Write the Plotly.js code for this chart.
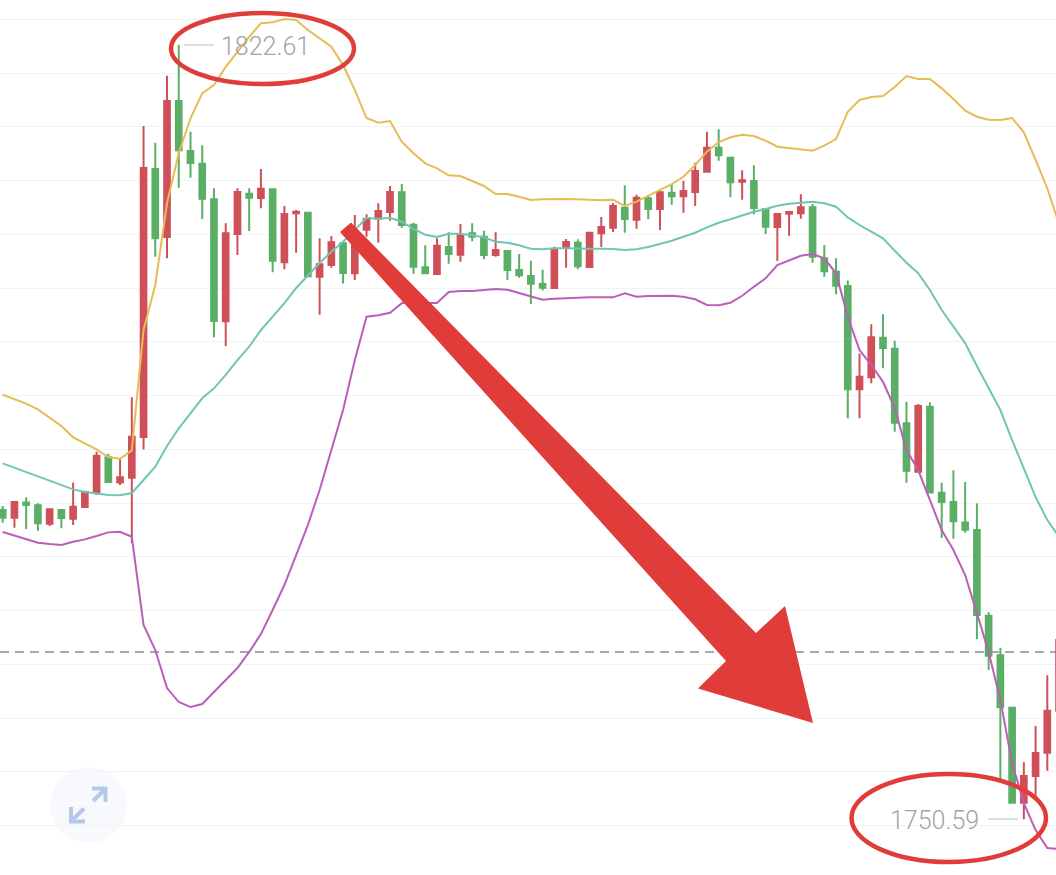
<!DOCTYPE html>
<html>
<head>
<meta charset="utf-8">
<script src="https://cdn.plot.ly/plotly-3.0.1.min.js"></script>
<style>html,body{margin:0;padding:0;background:#fff;overflow:hidden}#chart{width:1056px;height:875px}</style>
</head>
<body>
<div id="chart"></div>
<script>
const open = [1779.35,1778.63,1780.06,1779.79,1778.07,1779.35,1778.54,1779.63,1781.02,1784.25,
1781.92,1782.35,1786.14,1811.07,1804.74,1817.39,1812.74,1811.56,1808.25,1796.90,
1805.02,1808.77,1808.37,1809.18,1802.39,1806.95,1807.00,1801.05,1802.14,1804.16,
1801.37,1805.42,1806.45,1807.07,1808.90,1805.89,1801.92,1801.30,1803.81,1803.10,
1805.09,1804.77,1803.07,1803.44,1801.67,1801.12,1800.37,1800.00,1803.75,1804.21,
1801.95,1805.09,1805.61,1807.47,1806.35,1808.34,1807.35,1808.86,1808.53,1808.93,
1810.82,1813.05,1812.12,1809.89,1809.95,1807.32,1805.67,1806.91,1806.95,1807.51,
1802.76,1801.52,1800.18,1790.58,1791.69,1795.38,1794.35,1787.41,1782.91,1788.96,
1780.96,1780.09,1778.20,1777.49,1769.52,1765.83,1760.96,1752.12,1754.60,1756.77,1760.68];
const close = [1778.63,1780.09,1779.81,1778.11,1779.41,1778.60,1779.65,1781.02,1784.40,1781.95,
1782.39,1786.17,1811.16,1804.62,1817.39,1812.81,1811.63,1808.31,1796.93,1805.09,
1808.93,1808.40,1809.24,1802.54,1806.88,1807.10,1801.09,1802.20,1804.25,1801.39,
1804.46,1806.42,1807.16,1808.93,1805.86,1801.98,1801.37,1803.93,1803.16,1804.93,
1804.77,1803.07,1803.53,1801.67,1801.18,1800.40,1800.03,1803.60,1804.28,1802.02,
1805.14,1805.67,1807.63,1806.42,1808.40,1807.35,1808.90,1808.53,1809.02,1810.88,
1813.05,1812.34,1809.83,1810.02,1807.44,1805.70,1806.88,1807.07,1807.51,1802.91,
1801.55,1800.21,1790.58,1791.75,1795.41,1794.42,1787.47,1783.00,1789.02,1780.99,
1780.09,1778.30,1777.52,1769.58,1765.80,1761.00,1752.12,1754.60,1756.74,1760.68,1767.26];
const high = [1779.72,1780.09,1780.53,1779.97,1779.47,1779.35,1781.92,1781.14,1784.77,1784.58,
1784.16,1789.83,1815.07,1813.51,1819.75,1822.61,1814.54,1813.27,1809.27,1806.02,
1809.27,1809.27,1811.07,1809.21,1807.63,1807.25,1807.04,1804.62,1804.84,1804.31,
1806.79,1806.85,1807.88,1809.49,1809.67,1806.07,1803.97,1804.62,1805.18,1805.95,
1806.02,1805.33,1805.18,1803.44,1803.16,1802.54,1801.70,1803.84,1804.56,1804.53,
1805.24,1806.60,1807.91,1809.55,1808.68,1808.58,1809.18,1809.65,1809.95,1811.65,
1814.54,1814.76,1812.21,1810.95,1811.41,1807.41,1806.91,1807.10,1808.71,1807.81,
1804.00,1802.76,1800.71,1793.92,1796.62,1797.55,1795.10,1789.42,1789.21,1789.37,
1781.89,1783.04,1781.95,1779.97,1769.83,1766.54,1760.96,1755.88,1759.26,1763.97,1767.26];
const low = [1778.17,1777.70,1777.58,1777.42,1777.86,1777.65,1777.95,1779.53,1780.74,1781.95,
1781.67,1776.28,1784.99,1802.91,1802.76,1809.33,1810.26,1806.42,1795.41,1794.60,
1803.07,1805.30,1807.41,1801.46,1801.74,1803.28,1801.09,1797.51,1801.89,1800.42,
1800.74,1804.77,1804.21,1806.26,1805.61,1801.33,1801.30,1801.24,1802.26,1802.45,
1804.34,1802.67,1802.91,1800.74,1800.96,1798.51,1799.78,1799.91,1801.89,1801.74,
1801.92,1803.81,1805.21,1805.14,1805.51,1806.39,1805.39,1807.75,1807.00,1807.63,
1810.82,1811.84,1808.44,1808.21,1806.85,1805.02,1802.51,1804.86,1806.45,1802.35,
1801.05,1799.41,1787.88,1787.88,1791.13,1792.53,1786.63,1781.89,1782.91,1780.99,
1776.74,1776.68,1777.24,1767.32,1764.46,1754.23,1752.12,1750.59,1752.37,1755.10,1760.37];
const upperBand = [1790.07,1789.67,1789.24,1788.71,1787.97,1787.16,1786.11,1785.55,1784.99,1784.28,
1784.12,1784.90,1796.09,1800.28,1807.88,1812.56,1815.78,1818.11,1818.88,1820.58,
1821.98,1823.37,1824.62,1824.71,1825.02,1824.93,1824.00,1823.23,1822.44,1820.74,
1818.42,1815.81,1815.37,1815.53,1813.61,1812.53,1811.60,1811.13,1810.48,1810.42,
1809.95,1809.49,1808.74,1808.74,1808.49,1808.18,1808.25,1808.28,1808.28,1808.25,
1808.21,1808.16,1808.21,1807.63,1808.03,1808.56,1809.11,1809.67,1810.35,1811.44,
1812.68,1813.55,1814.02,1814.26,1814.14,1813.70,1813.14,1813.02,1812.90,1812.77,
1813.24,1813.86,1816.40,1817.49,1817.77,1817.86,1818.70,1819.72,1819.44,1819.44,
1818.57,1817.58,1816.49,1815.93,1815.65,1815.63,1815.81,1814.48,1811.91,1809.27,1805.95];
const middleBand = [1783.69,1783.28,1782.85,1782.45,1782.05,1781.65,1781.27,1781.02,1780.86,1780.74,
1780.72,1780.93,1782.14,1783.38,1785.30,1786.95,1788.34,1789.74,1790.67,1791.91,
1793.30,1794.54,1796.09,1797.33,1798.60,1800.00,1801.21,1802.32,1803.38,1804.31,
1805.39,1806.54,1806.42,1806.54,1806.17,1805.51,1804.96,1804.74,1805.05,1805.05,
1804.90,1804.71,1804.31,1804.21,1803.97,1803.65,1803.60,1803.69,1803.69,1803.65,
1803.65,1803.65,1803.63,1803.53,1803.60,1803.81,1804.09,1804.40,1804.77,1805.14,
1805.64,1806.07,1806.39,1806.76,1807.10,1807.35,1807.65,1807.84,1807.97,1808.03,
1807.88,1807.56,1806.57,1805.86,1805.24,1804.62,1803.47,1802.35,1801.37,1799.81,
1797.95,1796.46,1794.88,1792.74,1790.70,1788.65,1785.86,1783.25,1780.56,1778.42,1776.84];
const lowerBand = [1777.30,1776.96,1776.65,1776.31,1776.18,1776.09,1776.40,1776.62,1776.93,1777.27,
1777.33,1776.86,1768.65,1766.33,1762.79,1761.49,1761.02,1761.30,1762.42,1763.53,
1764.65,1766.14,1767.81,1770.05,1772.37,1775.16,1777.95,1781.21,1784.93,1788.65,
1793.30,1797.33,1797.46,1797.70,1798.58,1798.88,1798.60,1798.60,1799.63,1799.72,
1799.72,1799.81,1799.91,1799.84,1799.51,1799.19,1798.91,1799.00,1799.07,1799.10,
1799.13,1799.13,1799.13,1799.51,1799.19,1799.26,1799.28,1799.28,1799.19,1798.95,
1798.42,1798.39,1798.63,1799.28,1800.12,1800.90,1802.14,1802.60,1803.00,1803.16,
1802.76,1801.37,1797.33,1794.23,1792.84,1791.28,1788.84,1784.93,1783.07,1780.28,
1777.49,1775.63,1773.30,1769.77,1766.14,1761.67,1755.81,1752.09,1749.58,1747.91,1747.82];
const periods = open.map((_, i) => i);
const highLabel = '1822.61';
const lowLabel = '1750.59';
const referencePrice = 1766.14;

const W = 1056, H = 875;
const px = v => v / W, py = v => 1 - v / H;
const poly = pts => 'M' + pts.map(p => px(p[0]) + ',' + py(p[1])).join(' L') + ' Z';
const open_ = pts => 'M' + pts.map(p => px(p[0]) + ',' + py(p[1])).join(' L');
const red = '#E03C3A', iconBlue = '#B4C8E9';
const note = {type:'path', xref:'paper', yref:'paper', layer:'above'};
const ellipse = (x0,y0,x1,y1) => ({type:'circle', xref:'paper', yref:'paper', layer:'above',
  x0:px(x0), x1:px(x1), y0:py(y0), y1:py(y1), line:{color:red, width:4.5}, fillcolor:'rgba(0,0,0,0)'});
const shapes = [
  {type:'line', xref:'paper', yref:'y', x0:0, x1:1, y0:referencePrice, y1:referencePrice, layer:'below',
   line:{color:'#A8A8A8', width:2, dash:'9px,6px'}},
  Object.assign({}, note, {path:poly([[351,222.5],[340,232],[726,661],[698,688.5],[813,723],[785,606],[756,633]]),
   fillcolor:red, line:{width:0}}),
  ellipse(171,13,354,84),
  ellipse(851.5,774,1046,862),
  {type:'line', xref:'paper', yref:'paper', x0:px(184), x1:px(214), y0:py(45), y1:py(45), line:{color:'#BDBDBD', width:1}},
  {type:'line', xref:'paper', yref:'paper', x0:px(988), x1:px(1018), y0:py(819), y1:py(819), line:{color:'#BDBDBD', width:1}},
  {type:'circle', xref:'paper', yref:'paper', layer:'above', x0:px(50), x1:px(127), y0:py(767), y1:py(843),
   fillcolor:'rgba(240,244,252,0.5)', line:{width:0}},
  Object.assign({}, note, {path:open_([[92,788.5],[105.5,788.5],[105.5,802]]), line:{color:iconBlue,width:4}}),
  Object.assign({}, note, {path:open_([[105,789],[93,801]]), line:{color:iconBlue,width:4}}),
  Object.assign({}, note, {path:open_([[71,807],[71,821.5],[85,821.5]]), line:{color:iconBlue,width:4}}),
  Object.assign({}, note, {path:open_([[71.5,821],[84,808.5]]), line:{color:iconBlue,width:4}})
];
const label = (t, x, y) => ({text:t, xref:'paper', yref:'paper', x:px(x), y:py(y), xanchor:'left', yanchor:'middle',
  showarrow:false, font:{family:'Roboto, sans-serif', size:25, color:'#A4A4A4', weight:300}});
const band = (name, y, color) => ({type:'scatter', mode:'lines', name, x:periods, y, line:{color, width:2}, hoverinfo:'skip'});
const data = [
  {type:'candlestick', x:periods, open, high, low, close, whiskerwidth:0,
   increasing:{line:{color:'#CF5058', width:2}, fillcolor:'#CF5058'},
   decreasing:{line:{color:'#5BAE66', width:2}, fillcolor:'#5BAE66'}},
  band('upper', upperBand, '#E6BC54'),
  band('middle', middleBand, '#6FC6B2'),
  band('lower', lowerBand, '#B95FB8')
];
const layout = {
  width:W, height:H, margin:{l:0,r:0,t:0,b:0}, showlegend:false, boxgap:0.31,
  paper_bgcolor:'#fff', plot_bgcolor:'#fff',
  xaxis:{type:'linear', range:[-0.23,89.74], showgrid:false, zeroline:false, showticklabels:false, ticks:'', rangeslider:{visible:false}},
  yaxis:{range:[1745.4,1826.79], tick0:1750, dtick:5, showgrid:true, gridcolor:'#F1F3F5', gridwidth:1, zeroline:false, showticklabels:false, ticks:''},
  shapes,
  annotations:[label(highLabel,219,46), label(lowLabel,888,820)]
};
Plotly.newPlot('chart', data, layout, {displayModeBar:false, staticPlot:true});
</script>
</body>
</html>
